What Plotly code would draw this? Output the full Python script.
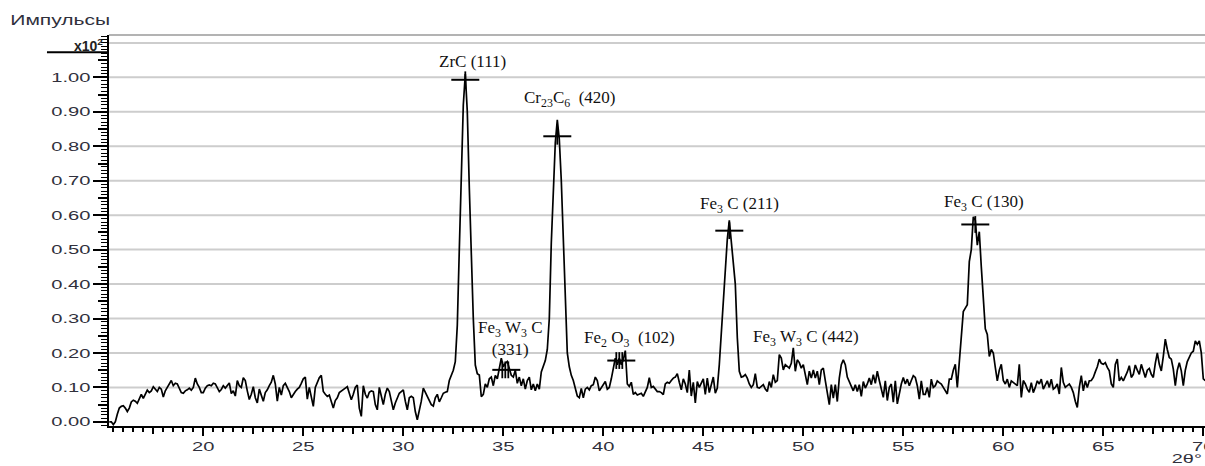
import plotly.graph_objects as go

# ---------------- data (intensity in units of x10^2 pulses) ----------------
two_theta_start = 15.3
two_theta_step = 0.1
intensity = (
    [0.000, 0.000, -0.008, 0.000, 0.022, 0.040, 0.045]                      # 15.3-15.9
    + [0.047, 0.040, 0.030, 0.040, 0.058, 0.063, 0.060, 0.054, 0.070, 0.080]  # 16
    + [0.068, 0.080, 0.092, 0.085, 0.090, 0.102, 0.095, 0.088, 0.100, 0.095]  # 17
    + [0.072, 0.090, 0.100, 0.110, 0.120, 0.105, 0.112, 0.110, 0.095, 0.085]  # 18
    + [0.083, 0.090, 0.093, 0.098, 0.092, 0.100, 0.127, 0.110, 0.100, 0.085]  # 19
    + [0.085, 0.098, 0.105, 0.107, 0.105, 0.112, 0.110, 0.098, 0.088, 0.094]  # 20
    + [0.105, 0.098, 0.105, 0.113, 0.082, 0.090, 0.075, 0.120, 0.105, 0.100]  # 21
    + [0.128, 0.120, 0.090, 0.065, 0.080, 0.102, 0.070, 0.055, 0.095, 0.080]  # 22
    + [0.060, 0.085, 0.093, 0.105, 0.115, 0.135, 0.110, 0.060, 0.100, 0.078]  # 23
    + [0.105, 0.112, 0.100, 0.088, 0.070, 0.080, 0.088, 0.095, 0.100, 0.112]  # 24
    + [0.125, 0.130, 0.066, 0.100, 0.070, 0.045, 0.100, 0.115, 0.128, 0.135]  # 25
    + [0.088, 0.080, 0.074, 0.078, 0.060, 0.040, 0.062, 0.070, 0.085, 0.090]  # 26
    + [0.095, 0.098, 0.102, 0.085, 0.064, 0.080, 0.100, 0.107, 0.040, 0.016]  # 27
    + [0.105, 0.080, 0.069, 0.086, 0.090, 0.088, 0.050, 0.035, 0.100, 0.075]  # 28
    + [0.050, 0.080, 0.098, 0.088, 0.060, 0.035, 0.055, 0.070, 0.083, 0.088]  # 29
    + [0.093, 0.060, 0.035, 0.070, 0.074, 0.070, 0.030, 0.006, 0.030, 0.060]  # 30
    + [0.098, 0.085, 0.074, 0.062, 0.050, 0.046, 0.070, 0.080, 0.058, 0.070]  # 31
    + [0.083, 0.086, 0.088, 0.120, 0.133, 0.150, 0.175, 0.280, 0.500, 0.720]  # 32
    + [0.920, 1.010, 0.900, 0.680, 0.460, 0.300, 0.165, 0.140, 0.136, 0.073]  # 33
    + [0.080, 0.110, 0.100, 0.125, 0.130, 0.105, 0.135, 0.125, 0.155, 0.185]  # 34
    + [0.160, 0.170, 0.175, 0.155, 0.135, 0.130, 0.150, 0.112, 0.130, 0.105]  # 35
    + [0.125, 0.095, 0.120, 0.130, 0.093, 0.110, 0.090, 0.110, 0.095, 0.145]  # 36
    + [0.160, 0.178, 0.210, 0.300, 0.520, 0.680, 0.810, 0.877, 0.820, 0.700]  # 37
    + [0.520, 0.340, 0.200, 0.160, 0.135, 0.120, 0.100, 0.075, 0.070, 0.097]  # 38
    + [0.070, 0.095, 0.100, 0.093, 0.105, 0.108, 0.130, 0.120, 0.090, 0.100]  # 39
    + [0.110, 0.117, 0.095, 0.100, 0.125, 0.156, 0.185, 0.166, 0.185, 0.166]  # 40
    + [0.180, 0.207, 0.110, 0.103, 0.115, 0.080, 0.085, 0.078, 0.080, 0.083]  # 41
    + [0.074, 0.090, 0.100, 0.128, 0.100, 0.103, 0.095, 0.088, 0.088, 0.085]  # 42
    + [0.079, 0.110, 0.115, 0.112, 0.120, 0.127, 0.130, 0.140, 0.115, 0.093]  # 43
    + [0.125, 0.110, 0.085, 0.150, 0.075, 0.115, 0.055, 0.117, 0.100, 0.115]  # 44
    + [0.125, 0.080, 0.127, 0.085, 0.110, 0.130, 0.083, 0.098, 0.166, 0.260]  # 45
    + [0.320, 0.430, 0.530, 0.585, 0.520, 0.450, 0.400, 0.245, 0.147, 0.130]  # 46
    + [0.132, 0.137, 0.127, 0.110, 0.100, 0.108, 0.140, 0.100, 0.098, 0.103]  # 47
    + [0.108, 0.095, 0.088, 0.117, 0.100, 0.137, 0.115, 0.120, 0.195, 0.185]  # 48
    + [0.151, 0.166, 0.160, 0.156, 0.170, 0.215, 0.147, 0.180, 0.172, 0.156]  # 49
    + [0.166, 0.137, 0.108, 0.147, 0.127, 0.151, 0.127, 0.147, 0.108, 0.151]  # 50
    + [0.156, 0.120, 0.085, 0.050, 0.108, 0.069, 0.108, 0.059, 0.127, 0.166]  # 51
    + [0.180, 0.166, 0.130, 0.117, 0.108, 0.090, 0.108, 0.088, 0.108, 0.074]  # 52
    + [0.117, 0.098, 0.110, 0.127, 0.108, 0.137, 0.112, 0.147, 0.120, 0.090]  # 53
    + [0.071, 0.119, 0.062, 0.100, 0.110, 0.057, 0.119, 0.052, 0.085, 0.110]  # 54
    + [0.129, 0.110, 0.124, 0.105, 0.120, 0.134, 0.129, 0.105, 0.066, 0.119]  # 55
    + [0.080, 0.080, 0.100, 0.071, 0.124, 0.100, 0.105, 0.119, 0.114, 0.110]  # 56
    + [0.100, 0.090, 0.081, 0.124, 0.124, 0.150, 0.167, 0.100, 0.180, 0.260]  # 57
    + [0.320, 0.330, 0.340, 0.465, 0.500, 0.595, 0.585, 0.513, 0.552, 0.450]  # 58
    + [0.360, 0.270, 0.254, 0.190, 0.210, 0.200, 0.158, 0.119, 0.150, 0.167]  # 59
    + [0.120, 0.110, 0.124, 0.100, 0.119, 0.114, 0.110, 0.105, 0.167, 0.071]  # 60
    + [0.120, 0.110, 0.095, 0.086, 0.114, 0.085, 0.100, 0.119, 0.110, 0.124]  # 61
    + [0.095, 0.105, 0.119, 0.100, 0.124, 0.095, 0.100, 0.110, 0.081, 0.158]  # 62
    + [0.115, 0.100, 0.105, 0.110, 0.100, 0.085, 0.060, 0.042, 0.100, 0.134]  # 63
    + [0.090, 0.119, 0.100, 0.119, 0.120, 0.129, 0.145, 0.160, 0.182, 0.170]  # 64
    + [0.167, 0.172, 0.158, 0.148, 0.110, 0.100, 0.167, 0.182, 0.119, 0.129]  # 65
    + [0.119, 0.130, 0.145, 0.163, 0.129, 0.138, 0.165, 0.150, 0.138, 0.167]  # 66
    + [0.148, 0.129, 0.150, 0.155, 0.138, 0.129, 0.170, 0.200, 0.167, 0.148]  # 67
    + [0.190, 0.240, 0.210, 0.187, 0.182, 0.153, 0.105, 0.150, 0.172, 0.148]  # 68
    + [0.105, 0.150, 0.175, 0.190, 0.200, 0.205, 0.235, 0.225, 0.235, 0.200]  # 69
    + [0.125, 0.120]                                                          # 70
)
two_theta = [round(two_theta_start + two_theta_step * i, 1) for i in range(len(intensity))]

# peak markers ("+")
cross_x = [33.1, 37.7, 35.15, 40.9, 46.3, 58.6]
cross_y = [0.993, 0.829, 0.151, 0.178, 0.555, 0.573]
tick_x = [33.1, 37.7, 34.95, 35.1, 35.25, 40.65, 40.8, 40.95, 46.3, 58.6]
tick_y = [0.993, 0.829, 0.151, 0.151, 0.151, 0.178, 0.178, 0.178, 0.555, 0.573]

# peak labels
peak_labels = [
    "ZrC (111)",
    "Cr<sub>23</sub>C<sub>6</sub>\u00a0 (420)",
    "Fe<sub>3</sub> W<sub>3</sub> C<br>(331)",
    "Fe<sub>2</sub> O<sub>3</sub>\u00a0\u00a0(102)",
    "Fe<sub>3</sub> C (211)",
    "Fe<sub>3</sub> W<sub>3</sub> C (442)",
    "Fe<sub>3</sub> C (130)",
]
label_x = [33.435, 38.335, 35.36, 41.285, 46.785, 50.135, 59.035]
label_y = [1.046, 0.936, 0.242, 0.241, 0.630, 0.244, 0.635]

y_major = [0.0, 0.1, 0.2, 0.3, 0.4, 0.5, 0.6, 0.7, 0.8, 0.9, 1.0]
y_mid = [0.05, 0.15, 0.25, 0.35, 0.45, 0.55, 0.65, 0.75, 0.85, 0.95, 1.05]
grid_levels = [0.1, 0.2, 0.3, 0.4, 0.5, 0.6, 0.7, 0.8, 0.9, 1.0, 1.1]
x_major = [20, 25, 30, 35, 40, 45, 50, 55, 60, 65, 70]
x_mid = [17.5, 22.5, 27.5, 32.5, 37.5, 42.5, 47.5, 52.5, 57.5, 62.5, 67.5]

X_RANGE = [15.285, 70.085]
Y_RANGE = [-0.012, 1.123]

fig = go.Figure()

fig.add_trace(go.Scatter(
    x=two_theta, y=intensity, mode="lines",
    line=dict(color="black", width=1.7), showlegend=False, hoverinfo="skip"))

fig.add_trace(go.Scatter(
    x=cross_x, y=cross_y, mode="markers",
    marker=dict(symbol="line-ew", size=20, line=dict(color="black", width=2)),
    showlegend=False, hoverinfo="skip"))
fig.add_trace(go.Scatter(
    x=tick_x, y=tick_y, mode="markers",
    marker=dict(symbol="line-ns", size=12, line=dict(color="black", width=1.8)),
    showlegend=False, hoverinfo="skip"))

# invisible traces carrying the secondary tick axes
fig.add_trace(go.Scatter(x=[X_RANGE[0]], y=[0], xaxis="x", yaxis="y2", mode="markers",
                         marker=dict(opacity=0), showlegend=False, hoverinfo="skip"))
fig.add_trace(go.Scatter(x=[X_RANGE[0]], y=[0], xaxis="x2", yaxis="y", mode="markers",
                         marker=dict(opacity=0), showlegend=False, hoverinfo="skip"))

tick_font = dict(family="Liberation Sans, Arial, sans-serif", size=13, color="#30303c")

fig.update_layout(
    width=1205, height=466,
    margin=dict(l=109, r=0, t=35, b=40, autoexpand=False),
    paper_bgcolor="white", plot_bgcolor="white",
    xaxis=dict(
        range=X_RANGE, showgrid=False, zeroline=False, automargin=False,
        showline=True, linecolor="black", linewidth=1.5,
        tickmode="array", tickvals=x_major, ticktext=[str(v) for v in x_major],
        ticks="outside", ticklen=8, tickwidth=1.5, tickcolor="black",
        tickfont=tick_font, ticklabeloverflow="allow",
        minor=dict(ticks="outside", dtick=0.5, tick0=0, ticklen=4,
                   tickwidth=1.5, tickcolor="black", showgrid=False),
    ),
    xaxis2=dict(
        range=X_RANGE, overlaying="x", side="bottom", anchor="y", automargin=False,
        showgrid=False, zeroline=False, showline=False, showticklabels=False,
        tickmode="array", tickvals=x_mid,
        ticks="outside", ticklen=7, tickwidth=1.5, tickcolor="black",
    ),
    yaxis=dict(
        range=Y_RANGE, showgrid=False, zeroline=False, automargin=False,
        showline=True, linecolor="black", linewidth=2,
        tickmode="array", tickvals=y_major, ticktext=["%.2f" % v for v in y_major],
        ticks="outside", ticklen=14, tickwidth=1.5, tickcolor="black",
        tickfont=tick_font,
        minor=dict(ticks="outside", dtick=0.01, tick0=0, ticklen=6,
                   tickwidth=1.2, tickcolor="black", showgrid=False),
    ),
    yaxis2=dict(
        range=Y_RANGE, overlaying="y", side="left", anchor="x", automargin=False,
        showgrid=False, zeroline=False, showline=False, showticklabels=False,
        tickmode="array", tickvals=y_mid,
        ticks="outside", ticklen=10, tickwidth=1.5, tickcolor="black",
    ),
)

shapes = []
for g in grid_levels:
    shapes.append(dict(type="line", xref="paper", yref="y", x0=0, x1=1, y0=g, y1=g,
                       line=dict(color="#cdcdcd", width=2), layer="below"))
# top frame line
shapes.append(dict(type="line", xref="paper", yref="paper", x0=0, x1=1, y0=1, y1=1,
                   line=dict(color="#9a9a9a", width=1.5), layer="below"))
# scale-factor underline at top of y axis
shapes.append(dict(type="line", xref="paper", yref="y", x0=-0.0566, x1=0, y0=1.073, y1=1.073,
                   line=dict(color="black", width=2)))
fig.update_layout(shapes=shapes)

label_font = dict(family="Liberation Serif, Times New Roman, serif", size=17, color="#111111")
for txt, lx, ly in zip(peak_labels, label_x, label_y):
    fig.add_annotation(x=lx, y=ly, xref="x", yref="y", text=txt, showarrow=False,
                       font=label_font, xanchor="center", yanchor="middle")

fig.add_annotation(x=-0.0438, y=1.038, xref="paper", yref="paper", text="Импульсы",
                   showarrow=False, xanchor="center", yanchor="middle",
                   font=dict(family="Liberation Sans, Arial, sans-serif", size=14, color="#30303c"))
fig.add_annotation(x=-0.0036, y=1.094, xref="paper", yref="y", text="<b>x10<sup>2</sup></b>",
                   showarrow=False, xanchor="right", yanchor="middle",
                   font=dict(family="Liberation Sans, Arial, sans-serif", size=14, color="#222222"))
fig.add_annotation(x=0.9836, y=-0.082, xref="paper", yref="paper", text="2θ°",
                   showarrow=False, xanchor="center", yanchor="middle",
                   font=dict(family="Liberation Sans, Arial, sans-serif", size=13, color="#30303c"))

post_js = """
(function(){
  document.documentElement.style.margin = '0';
  document.documentElement.style.overflow = 'hidden';
  document.body.style.margin = '0';
  document.body.style.padding = '0';
  document.body.style.overflow = 'hidden';
  var gd = document.getElementById('{plot_id}');
  if (!gd) return;
  function widen(sel, f){
    gd.querySelectorAll(sel).forEach(function(t){
      var w = t.getComputedTextLength();
      if (w > 0) { t.setAttribute('textLength', (w * f).toFixed(1));
                   t.setAttribute('lengthAdjust', 'spacingAndGlyphs'); }
    });
  }
  widen('g.ytick text', 1.55);
  widen('g.xtick text', 1.55);
  gd.querySelectorAll('text.annotation-text').forEach(function(t){
    var s = t.textContent;
    var target = null;
    if (s === 'Импульсы') target = 100;
    if (s === '2θ°') target = 30;
    if (target) { t.setAttribute('textLength', target);
                  t.setAttribute('lengthAdjust', 'spacingAndGlyphs'); }
  });
})();
"""

fig.write_html("out.html", post_script=post_js, config={"displayModeBar": False})
